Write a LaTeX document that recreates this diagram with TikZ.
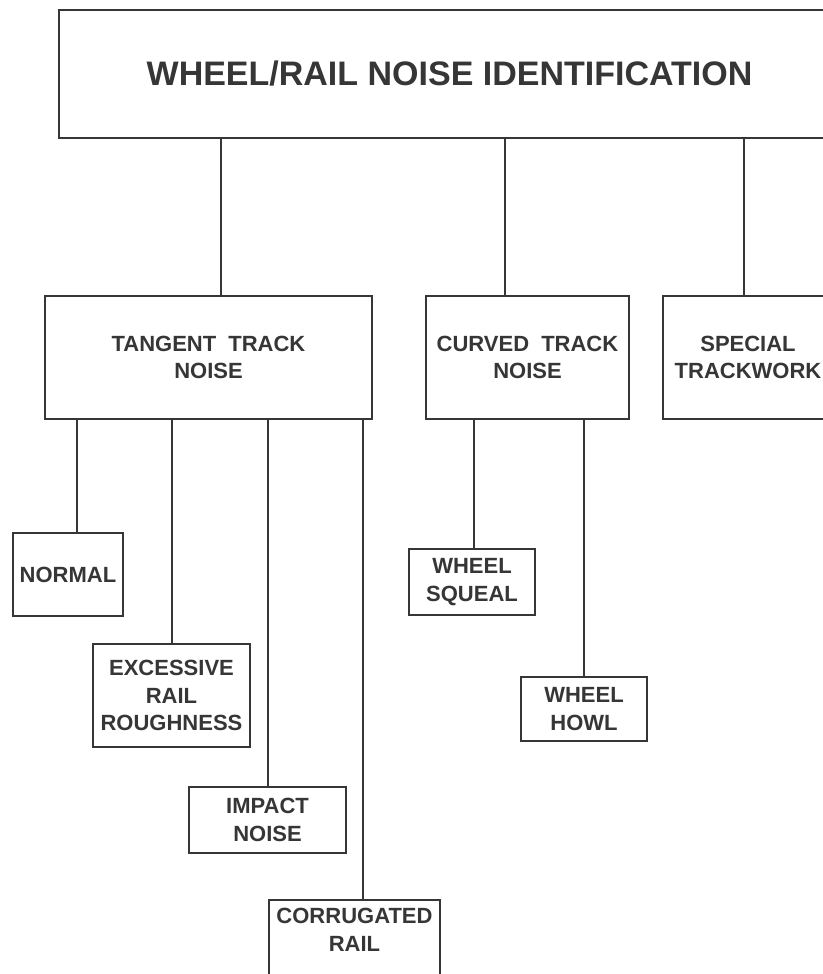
\documentclass[tikz,border=0pt]{standalone}
\usepackage{fontspec}
\setmainfont{Liberation Sans}
\definecolor{ink}{HTML}{363636}
\newcommand{\wsp}{\hspace{0.55em}}
\begin{document}
\begin{tikzpicture}[x=1pt,y=-1pt,
  box/.style={draw=ink, line width=1.9pt, fill=none, inner sep=0pt, align=center, text=ink,
    font=\fontsize{22}{27.5}\selectfont\bfseries},
  txt/.style={inner sep=0pt, align=center, text=ink, font=\fontsize{22}{27.5}\selectfont\bfseries},
  link/.style={draw=ink, line width=1.9pt}]
\useasboundingbox[fill=white] (0,0) rectangle (822,974);
% boxes
\node[box, minimum width=781, minimum height=128, font=\fontsize{34}{40}\selectfont\bfseries] (top) at (449.5,74) {WHEEL/RAIL NOISE IDENTIFICATION};
\node[box, minimum width=327, minimum height=123] (tan) at (208.5,357.5) {TANGENT\wsp TRACK\\NOISE};
\node[box, minimum width=203, minimum height=123] (cur) at (527.5,357.5) {CURVED\wsp TRACK\\NOISE};
\node[box, minimum width=170, minimum height=123] (spe) at (748,357.5) {SPECIAL\\TRACKWORK};
\node[box, minimum width=110, minimum height=83] (nor) at (68,574.5) {NORMAL};
\node[box, minimum width=157, minimum height=103] (exc) at (171.5,695.5) {EXCESSIVE\\RAIL\\ROUGHNESS};
\node[box, minimum width=157, minimum height=66] (imp) at (267.5,820) {IMPACT\\NOISE};
\node[box, minimum width=171, minimum height=95, anchor=north] (cor) at (354.5,899) {};
\node[txt] (cortxt) at (354.5,930) {CORRUGATED\\RAIL};
\node[box, minimum width=126, minimum height=66] (squ) at (472,582) {WHEEL\\SQUEAL};
\node[box, minimum width=126, minimum height=64] (how) at (584,709) {WHEEL\\HOWL};
% connector x positions
\coordinate (c1) at (221,0);
\coordinate (c2) at (505,0);
\coordinate (c3) at (744,0);
\coordinate (t1) at (77,0);
\coordinate (t2) at (172,0);
\coordinate (t3) at (268,0);
\coordinate (t4) at (363,0);
\coordinate (k1) at (474,0);
\coordinate (k2) at (584,0);
% connectors
\draw[link] (top.south -| c1) -- (tan.north -| c1);
\draw[link] (top.south -| c2) -- (cur.north -| c2);
\draw[link] (top.south -| c3) -- (spe.north -| c3);
\draw[link] (tan.south -| t1) -- (nor.north -| t1);
\draw[link] (tan.south -| t2) -- (exc.north -| t2);
\draw[link] (tan.south -| t3) -- (imp.north -| t3);
\draw[link] (tan.south -| t4) -- (cor.north -| t4);
\draw[link] (cur.south -| k1) -- (squ.north -| k1);
\draw[link] (cur.south -| k2) -- (how.north -| k2);
\end{tikzpicture}
\end{document}
